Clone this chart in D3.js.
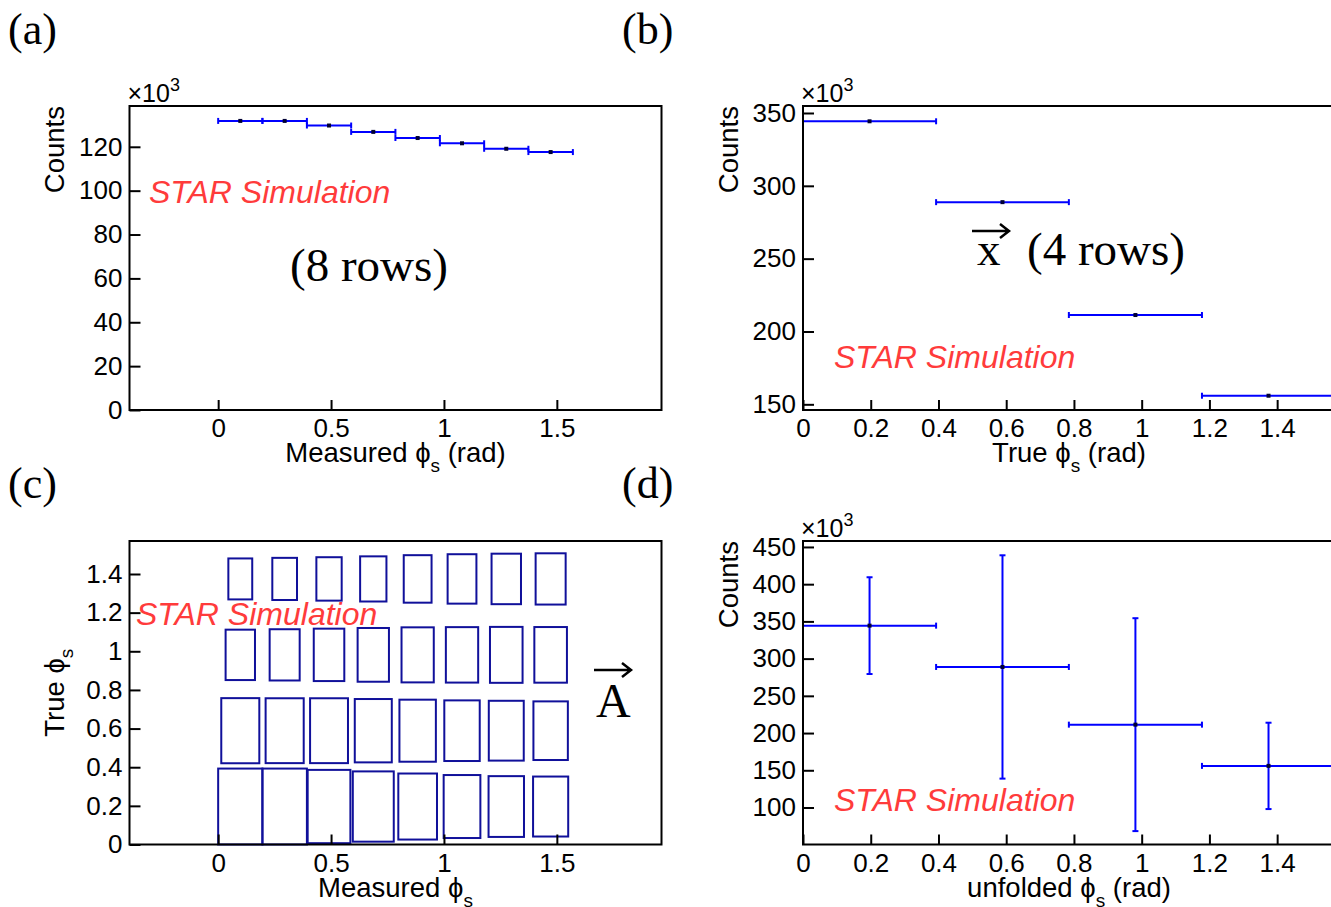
<!DOCTYPE html>
<html>
<head>
<meta charset="utf-8">
<script src="https://cdn.jsdelivr.net/npm/d3@7"></script>
<style>
  body { margin: 0; background: #fff; }
  svg { display: block; }
</style>
</head>
<body>
<div id="chart"></div>
<script>
// binning (rad)
const measuredEdges = [0, 0.196, 0.393, 0.589, 0.785, 0.982, 1.178, 1.374, 1.571];
const trueEdges = [0, 0.393, 0.785, 1.178, 1.571];

// counts in units of 10^3
const measuredCounts = [131.8, 131.8, 129.7, 126.8, 124.0, 121.6, 119.1, 117.6];
const trueCounts = [344.3, 288.8, 211.3, 155.9];
const unfoldedCounts = [344.3, 288.8, 211.3, 155.9];
const unfoldedErrors = [65, 150, 143, 58];

// response matrix A: rows = true bins, columns = measured bins (10^3)
const responseRow1 = [52.9, 52.9, 49.3, 45.3, 40.0, 36.4, 33.9, 33.0];
const responseRow2 = [39.1, 38.8, 38.8, 37.0, 35.5, 33.9, 33.0, 31.7];
const responseRow3 = [23.3, 24.1, 25.2, 26.5, 27.8, 28.2, 28.7, 28.4];
const responseRow4 = [15.4, 16.3, 17.3, 18.7, 20.7, 22.4, 23.4, 24.1];

// tick labels
const measuredTicks = [0, 0.5, 1, 1.5];
const trueTicks = [0, 0.2, 0.4, 0.6, 0.8, 1, 1.2, 1.4];
const countsTicksA = [0, 20, 40, 60, 80, 100, 120];
const countsTicksB = [150, 200, 250, 300, 350];
const countsTicksD = [100, 150, 200, 250, 300, 350, 400, 450];
const truePhiTicks = [0, 0.2, 0.4, 0.6, 0.8, 1, 1.2, 1.4];

const W = 1331, H = 907;
const sans = "'Liberation Sans', Arial, Helvetica, sans-serif";
const serif = "'Liberation Serif', 'Times New Roman', serif";
const blue = "#0000ff";
const red = "#ff3b3b";

const svg = d3.select("#chart")
  .append("svg")
  .attr("width", W)
  .attr("height", H);

svg.append("rect").attr("width", W).attr("height", H).attr("fill", "#fff");

function makePanel(box, xDomain, yDomain, xTicks, yTicks) {
  const x = d3.scaleLinear().domain(xDomain).range([box.x0, box.x1]);
  const y = d3.scaleLinear().domain(yDomain).range([box.y1, box.y0]);
  const g = svg.append("g");
  const data = g.append("g");

  const xa = g.append("g")
    .attr("transform", `translate(0,${box.y1})`)
    .call(d3.axisBottom(x).tickValues(xTicks).tickSizeInner(-10).tickSizeOuter(0)
      .tickPadding(9).tickFormat(d => String(d)));
  const ya = g.append("g")
    .attr("transform", `translate(${box.x0},0)`)
    .call(d3.axisLeft(y).tickValues(yTicks).tickSizeInner(-11).tickSizeOuter(0)
      .tickPadding(7).tickFormat(d => String(d)));
  [xa, ya].forEach(a => {
    a.select(".domain").remove();
    a.selectAll(".tick line").attr("stroke", "#000").attr("stroke-width", 2);
    a.selectAll(".tick text").attr("font-family", sans).attr("font-size", 26).attr("fill", "#000");
  });

  g.append("rect")
    .attr("x", box.x0).attr("y", box.y0)
    .attr("width", box.x1 - box.x0).attr("height", box.y1 - box.y0)
    .attr("fill", "none").attr("stroke", "#000").attr("stroke-width", 2);

  return { g, data, x, y };
}

function xTitle(p, box, label, sub, tail) {
  const t = p.g.append("text")
    .attr("x", (box.x0 + box.x1) / 2).attr("y", box.y1 + 52)
    .attr("text-anchor", "middle")
    .attr("font-family", sans).attr("font-size", 27.5);
  t.append("tspan").text(label);
  t.append("tspan").attr("font-size", 19).attr("dy", 10).text(sub);
  if (tail) t.append("tspan").attr("dy", -10).text(tail);
}

function yTitle(p, box, cx, anchor, label, sub) {
  const yy = anchor === "end" ? box.y0 : (box.y0 + box.y1) / 2;
  const t = p.g.append("text")
    .attr("transform", `translate(${cx},${yy}) rotate(-90)`)
    .attr("text-anchor", anchor)
    .attr("font-family", sans).attr("font-size", 27.5);
  t.append("tspan").text(label);
  if (sub) t.append("tspan").attr("font-size", 19).attr("dy", 9).text(sub);
}

function exponent(p, box) {
  const t = p.g.append("text")
    .attr("x", box.x0 - 2).attr("y", box.y0 - 4)
    .attr("font-family", sans).attr("font-size", 25);
  t.append("tspan").text("\u00d710");
  t.append("tspan").attr("font-size", 18).attr("dy", -11).text("3");
}

function star(p, x, y) {
  p.g.append("text")
    .attr("x", x).attr("y", y)
    .attr("font-family", sans).attr("font-size", 32)
    .attr("font-style", "italic").attr("fill", red)
    .text("STAR Simulation");
}

function histPoints(p, edges, counts, errors) {
  const pts = counts.map((c, i) => ({
    lo: edges[i], hi: edges[i + 1], mid: (edges[i] + edges[i + 1]) / 2,
    c, e: errors ? errors[i] : 0
  }));
  const d = p.data;
  d.selectAll(null).data(pts).join("line")
    .attr("x1", q => p.x(q.lo)).attr("x2", q => p.x(q.hi))
    .attr("y1", q => p.y(q.c)).attr("y2", q => p.y(q.c))
    .attr("stroke", blue).attr("stroke-width", 2);
  ["lo", "hi"].forEach(k => {
    d.selectAll(null).data(pts).join("line")
      .attr("x1", q => p.x(q[k])).attr("x2", q => p.x(q[k]))
      .attr("y1", q => p.y(q.c) - 3).attr("y2", q => p.y(q.c) + 3)
      .attr("stroke", blue).attr("stroke-width", 2);
  });
  if (errors) {
    d.selectAll(null).data(pts).join("line")
      .attr("x1", q => p.x(q.mid)).attr("x2", q => p.x(q.mid))
      .attr("y1", q => p.y(q.c + q.e)).attr("y2", q => p.y(q.c - q.e))
      .attr("stroke", blue).attr("stroke-width", 2);
    ["+", "-"].forEach(s => {
      d.selectAll(null).data(pts).join("line")
        .attr("x1", q => p.x(q.mid) - 3).attr("x2", q => p.x(q.mid) + 3)
        .attr("y1", q => p.y(s === "+" ? q.c + q.e : q.c - q.e))
        .attr("y2", q => p.y(s === "+" ? q.c + q.e : q.c - q.e))
        .attr("stroke", blue).attr("stroke-width", 2);
    });
  }
  d.selectAll(null).data(pts).join("rect")
    .attr("x", q => p.x(q.mid) - 2).attr("y", q => p.y(q.c) - 2)
    .attr("width", 4).attr("height", 4)
    .attr("fill", "#000033");
}

const boxA = { x0: 129.5, x1: 661.5, y0: 106, y1: 410 };
const boxB = { x0: 803, x1: 1335, y0: 106, y1: 410 };
const boxC = { x0: 129.5, x1: 661.5, y0: 541, y1: 844.5 };
const boxD = { x0: 803, x1: 1335, y0: 541, y1: 844.5 };

// (a) measured
const pA = makePanel(boxA, [-0.3927, 1.9635], [0, 138.6], measuredTicks, countsTicksA);
histPoints(pA, measuredEdges, measuredCounts);
xTitle(pA, boxA, "Measured \u03d5", "s", " (rad)");
yTitle(pA, boxA, 64, "end", "Counts");
exponent(pA, boxA);
star(pA, 149, 203);
pA.g.append("text").attr("x", 290).attr("y", 281)
  .attr("font-family", serif).attr("font-size", 47).text("(8 rows)");

// (b) true
const pB = makePanel(boxB, [0, 1.5708], [146.1, 354.8], trueTicks, countsTicksB);
histPoints(pB, trueEdges, trueCounts);
xTitle(pB, boxB, "True \u03d5", "s", " (rad)");
yTitle(pB, boxB, 738, "end", "Counts");
exponent(pB, boxB);
star(pB, 834, 368);
pB.g.append("text").attr("x", 977).attr("y", 265)
  .attr("font-family", serif).attr("font-size", 47).text("x");
pB.g.append("text").attr("x", 1027).attr("y", 265)
  .attr("font-family", serif).attr("font-size", 47).text("(4 rows)");
pB.g.append("path").attr("d", "M972,231 H1008 M1000,224 L1009,231 L1000,238")
  .attr("fill", "none").attr("stroke", "#000").attr("stroke-width", 2.5);

// (c) response matrix
const pC = makePanel(boxC, [-0.3927, 1.9635], [0, 1.5708], measuredTicks, truePhiTicks);
const responseRows = [responseRow1, responseRow2, responseRow3, responseRow4];
const cmax = d3.max(responseRows.flat());
const cells = [];
responseRows.forEach((row, j) => row.forEach((c, i) => cells.push({
  xlo: measuredEdges[i], xhi: measuredEdges[i + 1], ylo: trueEdges[j], yhi: trueEdges[j + 1], c
})));
pC.data.selectAll("rect").data(cells).join("rect")
  .attr("x", d => {
    const w = (pC.x(d.xhi) - pC.x(d.xlo)) * Math.sqrt(d.c / cmax);
    return (pC.x(d.xlo) + pC.x(d.xhi)) / 2 - w / 2;
  })
  .attr("width", d => (pC.x(d.xhi) - pC.x(d.xlo)) * Math.sqrt(d.c / cmax))
  .attr("y", d => {
    const h = (pC.y(d.ylo) - pC.y(d.yhi)) * Math.sqrt(d.c / cmax);
    return (pC.y(d.ylo) + pC.y(d.yhi)) / 2 - h / 2;
  })
  .attr("height", d => (pC.y(d.ylo) - pC.y(d.yhi)) * Math.sqrt(d.c / cmax))
  .attr("fill", "none").attr("stroke", "#10109a").attr("stroke-width", 2);
xTitle(pC, boxC, "Measured \u03d5", "s");
yTitle(pC, boxC, 64, "middle", "True \u03d5", "s");
star(pC, 136, 625);
pC.g.append("text").attr("x", 596).attr("y", 717)
  .attr("font-family", serif).attr("font-size", 48).text("A");
pC.g.append("path").attr("d", "M594,670 H630 M622,663 L631,670 L622,677")
  .attr("fill", "none").attr("stroke", "#000").attr("stroke-width", 2.5);

// (d) unfolded
const pD = makePanel(boxD, [0, 1.5708], [50.3, 458], trueTicks, countsTicksD);
histPoints(pD, trueEdges, unfoldedCounts, unfoldedErrors);
xTitle(pD, boxD, "unfolded \u03d5", "s", " (rad)");
yTitle(pD, boxD, 738, "end", "Counts");
exponent(pD, boxD);
star(pD, 834, 811);

// panel labels
[["(a)", 8, 44], ["(b)", 622, 44], ["(c)", 8, 498], ["(d)", 622, 498]].forEach(([s, x, y]) => {
  svg.append("text").attr("x", x).attr("y", y)
    .attr("font-family", serif).attr("font-size", 44).text(s);
});
</script>
</body>
</html>
